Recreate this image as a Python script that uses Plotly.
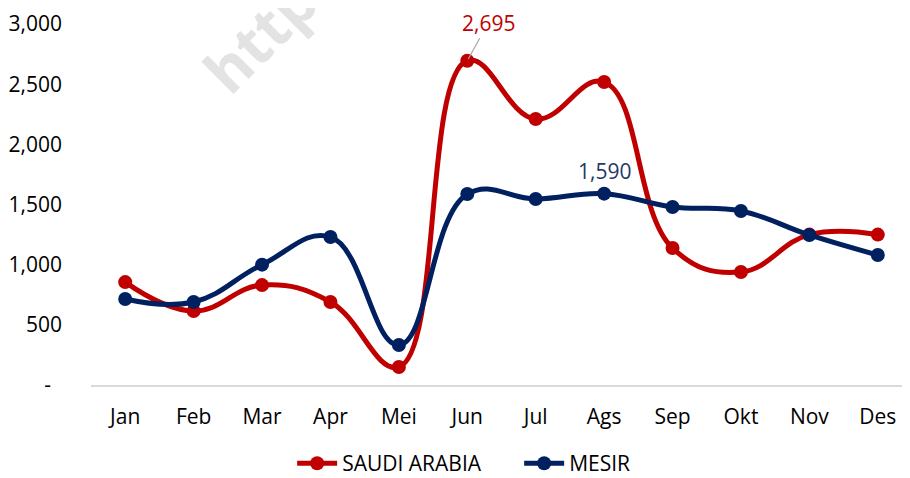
import plotly.graph_objects as go

months = ["Jan", "Feb", "Mar", "Apr", "Mei", "Jun", "Jul", "Ags", "Sep", "Okt", "Nov", "Des"]
saudi = [855, 615, 830, 690, 150, 2695, 2210, 2518, 1138, 939, 1250, 1250]
mesir = [715, 690, 1000, 1230, 332, 1587, 1546, 1590, 1479, 1446, 1247, 1080]
ytick_vals = [0, 500, 1000, 1500, 2000, 2500, 3000]
ytick_text = ["-\u00a0\u00a0", "500", "1,000", "1,500", "2,000", "2,500", "3,000"]

RED = "#C00000"
NAVY = "#002060"
FONT = "Open Sans"

fig = go.Figure()
fig.add_trace(go.Scatter(
    x=months, y=saudi, name="SAUDI ARABIA", mode="lines+markers",
    line=dict(color=RED, width=5, shape="spline", smoothing=1.2),
    marker=dict(color=RED, size=14),
))
fig.add_trace(go.Scatter(
    x=months, y=mesir, name="MESIR", mode="lines+markers",
    line=dict(color=NAVY, width=5, shape="spline", smoothing=1.2),
    marker=dict(color=NAVY, size=14),
))

# watermark
fig.add_annotation(
    text="<b>http</b>", xref="paper", yref="paper", x=0.206, y=0.969,
    xanchor="center", yanchor="middle",
    showarrow=False, textangle=-45, font=dict(family=FONT, size=60, color="#E3E3E3"),
)

fig.add_annotation(
    x="Jun", y=saudi[5], text="2,695", showarrow=True, arrowhead=0,
    arrowcolor="#A6A6A6", arrowwidth=1.2, ax=21, ay=-38, standoff=2,
    font=dict(family=FONT, size=21, color=RED),
)
fig.add_annotation(
    x="Ags", y=mesir[7], text="1,590", showarrow=False, yshift=23,
    font=dict(family=FONT, size=21, color="#1F3864"),
)

fig.update_layout(
    width=910, height=478,
    margin=dict(l=83, r=6, t=16, b=101, autoexpand=False),
    paper_bgcolor="white", plot_bgcolor="white",
    font=dict(family=FONT, size=21, color="#000000"),
    showlegend=True,
    legend=dict(orientation="h", xref="paper", x=0.245, xanchor="left",
                yref="container", y=0.047, yanchor="middle",
                font=dict(family=FONT, size=21), itemwidth=40, entrywidth=172),
    xaxis=dict(range=[-0.5, 11.5], showgrid=False, showline=True, linecolor="#D9D9D9",
               linewidth=1.5, ticks="", tickfont=dict(size=21), ticklabelstandoff=12,
               automargin=False),
    yaxis=dict(range=[0, 3000], tickvals=ytick_vals, ticktext=ytick_text, showgrid=False,
               zeroline=False, showline=False, ticks="", tickfont=dict(size=21),
               ticklabelstandoff=28, automargin=False),
)

fig.write_html("out.html")
